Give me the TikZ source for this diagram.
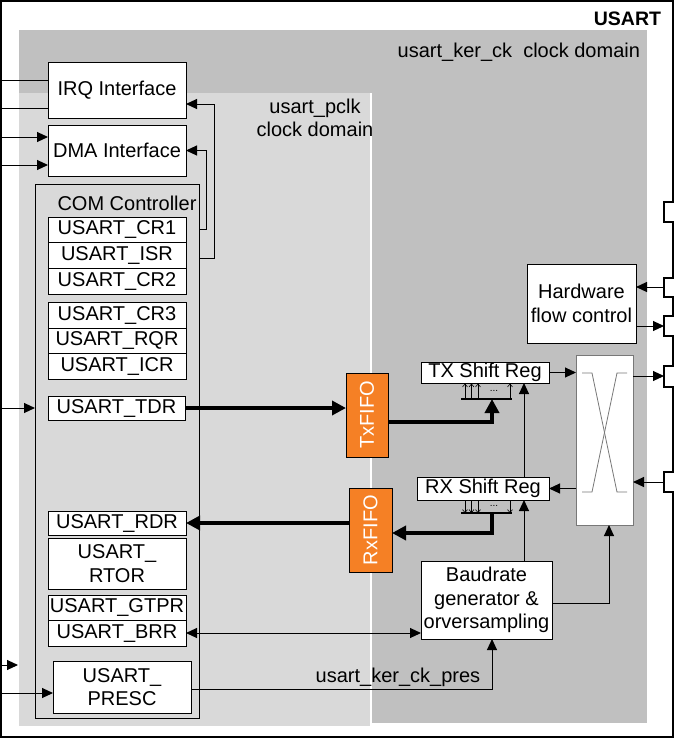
\documentclass[tikz,border=0pt]{standalone}
\usepackage{fontspec}
\setmainfont{Liberation Sans}
\usetikzlibrary{arrows.meta}
\definecolor{kergray}{RGB}{192,192,192}
\definecolor{pclkgray}{RGB}{217,217,217}
\definecolor{fifoorange}{RGB}{245,128,37}
\definecolor{muxgray}{RGB}{120,120,120}
\newcommand{\regbox}[7][]{%
  \node[box,#1,minimum width={(#5)-(#3)},minimum height={(#6)-(#4)}] (#2)
    at ({((#3)+(#5))/2},{((#4)+(#6))/2}) {#7};}
\begin{document}
\begin{tikzpicture}[x=1pt,y=-1pt,
  every node/.style={font=\fontsize{20}{23.5}\selectfont, inner sep=0pt, outer sep=0pt},
  box/.style={draw, fill=white, line width=1pt, align=center},
  fifo/.style={draw, fill=fifoorange, line width=1pt},
  fifotext/.style={rotate=90, text=white},
  conn/.style={line width=1pt},
  arr/.style={line width=1pt, -{Triangle[length=11pt,width=10pt]}},
  dblarr/.style={line width=1pt, {Triangle[length=11pt,width=10pt]}-{Triangle[length=11pt,width=10pt]}},
  thickarr/.style={line width=4pt, -{Triangle[length=14pt,width=14pt]}},
  smallarr/.style={line width=0.6pt, -{Straight Barb[length=3pt,width=5pt]}},
  dots/.style={font=\fontsize{10}{11}\selectfont},
  xline/.style={line width=0.8pt, draw=muxgray}]
\useasboundingbox (0,0) rectangle (678,740);

% clock domains
\fill[kergray] (19,30) rectangle (647,723);
\fill[pclkgray] (19,93) rectangle (371,726);
\draw[white, line width=1.2pt] (371,93) -- (371,726);

% outer USART border with pins
\draw[line width=1.5pt] (1,1) -- (673,1)
  -- (673,202) -- (664,202) -- (664,222) -- (673,222)
  -- (673,278) -- (664,278) -- (664,297) -- (673,297)
  -- (673,316) -- (664,316) -- (664,336) -- (673,336)
  -- (673,366) -- (664,366) -- (664,387) -- (673,387)
  -- (673,472) -- (664,472) -- (664,492) -- (673,492)
  -- (673,737) -- (1,737) -- cycle;

% texts
\node[font=\fontsize{19.5}{23.5}\selectfont\bfseries, anchor=east] (usart) at (661,19) {USART};
\node[anchor=east] (kerlbl) at (640,52) {usart\_ker\_ck\ \ clock domain};
\node[align=center] (pclklbl) at (315,118) {usart\_pclk\\clock domain};

% interfaces
\regbox{irq}{48}{62}{186}{118}{IRQ Interface}
\regbox{dma}{48}{125}{186}{176}{DMA Interface}

% COM controller
\node[draw, line width=1pt, minimum width=164, minimum height=534] (com) at (117,451) {};
\node (comlbl) at (127,203) {COM Controller};
\regbox{cr1}{48}{217}{186}{242}{USART\_CR1}
\regbox{isr}{48}{242}{186}{268}{USART\_ISR}
\regbox{cr2}{48}{268}{186}{294}{USART\_CR2}
\regbox{cr3}{48}{302}{186}{328}{USART\_CR3}
\regbox{rqr}{48}{328}{186}{353}{USART\_RQR}
\regbox{icr}{48}{353}{186}{379}{USART\_ICR}
\regbox{tdr}{48}{396}{185}{420}{USART\_TDR}
\regbox{rdr}{48}{511}{186}{535}{USART\_RDR}
\regbox{rtor}{48}{538}{186}{589}{USART\_\\RTOR}
\regbox{gtpr}{48}{595}{186}{620}{USART\_GTPR}
\regbox{brr}{48}{620}{186}{646}{USART\_BRR}
\regbox{presc}{53}{661}{191}{713}{USART\_\\PRESC}

% FIFOs
\node[fifo, minimum width=42, minimum height=84] (txf) at (367,415) {};
\node[fifotext] (txft) at (txf.center) {TxFIFO};
\node[fifo, minimum width=43, minimum height=84] (rxf) at (370.5,530) {};
\node[fifotext] (rxft) at (rxf.center) {RxFIFO};

% shift registers, HFC, mux, baudrate
\regbox{txsr}{421}{362}{549}{383}{TX Shift Reg}
\regbox{rxsr}{417}{477}{549}{500}{RX Shift Reg}
\regbox{hfc}{527}{264}{636}{343}{Hardware\\flow control}
\regbox[draw=muxgray]{mux}{576}{355}{633}{525}{}
\regbox{baud}{421}{561}{552}{639}{Baudrate\\generator \&\\orversampling}

% mux X
\draw[xline] (582,373) -- (592,373) -- (617,492) -- (627,492);
\draw[xline] (627,373) -- (617,373) -- (592,492) -- (582,492);

% left side signals
\coordinate (l1) at (0,80);
\coordinate (l2) at (0,108);
\coordinate (l3) at (0,137);
\coordinate (l4) at (0,165);
\coordinate (l5) at (0,408);
\coordinate (l6) at (0,665);
\coordinate (l6e) at (18,665);
\coordinate (l7) at (0,693);
\draw[conn] (l1) -- (l1 -| irq.west);
\draw[conn] (l2) -- (l2 -| irq.west);
\draw[arr] (l3) -- (l3 -| dma.west);
\draw[arr] (l4) -- (l4 -| dma.west);
\draw[arr] (l5) -- (l5 -| com.west);
\draw[arr] (l6) -- (l6e);
\draw[arr] (l7) -- (l7 -| presc.west);

% register to interface links
\draw[arr] (cr1 -| com.east) -- ++(7,0) |- (dma.east);
\draw[arr] ([yshift=-3pt]isr.east -| com.east) -- ++(15,0) |- ([yshift=-14pt]irq.east);

% TX path
\coordinate (txbarl) at (461,399);
\coordinate (txbarr) at (512,399);
\coordinate (txbarc) at (492,399);
\draw[thickarr] (tdr.east) -- (tdr.east -| txf.west);
\draw[thickarr] ([yshift=-7pt]txf.east) -| (txbarc);
\draw[line width=2.5pt] (txbarl) -- (txbarr);
\foreach \xx in {465,471.5,478,510} \draw[smallarr] (\xx,399) -- (\xx,383.5);
\node[dots] (txdots) at (494,391) {...};
\draw[arr] (txsr.east) -- (txsr.east -| mux.west);

% RX path
\coordinate (rxbarl) at (461,513);
\coordinate (rxbarr) at (512,513);
\coordinate (rxbarc) at (492,513);
\foreach \xx in {465,471.5,478,510} \draw[smallarr] (\xx,500.5) -- (\xx,513);
\draw[line width=2.5pt] (rxbarl) -- (rxbarr);
\node[dots] (rxdots) at (494,506) {...};
\draw[thickarr] (rxbarc) |- ([yshift=-3pt]rxf.east);
\draw[thickarr] (rdr.east -| rxf.west) -- (rdr.east);
\draw[arr] (mux.west |- rxsr.east) -- (rxsr.east);

% pins
\coordinate (p2) at (664,287);
\coordinate (p3) at (664,326);
\coordinate (p4) at (664,376);
\coordinate (p5) at (664,482);
\draw[arr] (p2) -- (p2 -| hfc.east);
\draw[arr] (hfc.east |- p3) -- (p3);
\draw[arr] (mux.east |- p4) -- (p4);
\draw[arr] (p5) -- (p5 -| mux.east);

% baudrate links
\coordinate (bt) at ([xshift=37.5pt]baud.north);
\draw[arr] (bt) -- (bt |- rxsr.south);
\draw[arr] (bt |- rxsr.north) -- (bt |- txsr.south);
\draw[arr] ([yshift=-3pt]baud.east) -| ([xshift=4.5pt]mux.south);
\draw[dblarr] (brr.east) -- (brr.east -| baud.west);
\draw[arr] ([yshift=-2pt]presc.east) -| ([xshift=5.5pt]baud.south);
\node[anchor=south] (preslbl) at (398,687) {usart\_ker\_ck\_pres};
\end{tikzpicture}
\end{document}
